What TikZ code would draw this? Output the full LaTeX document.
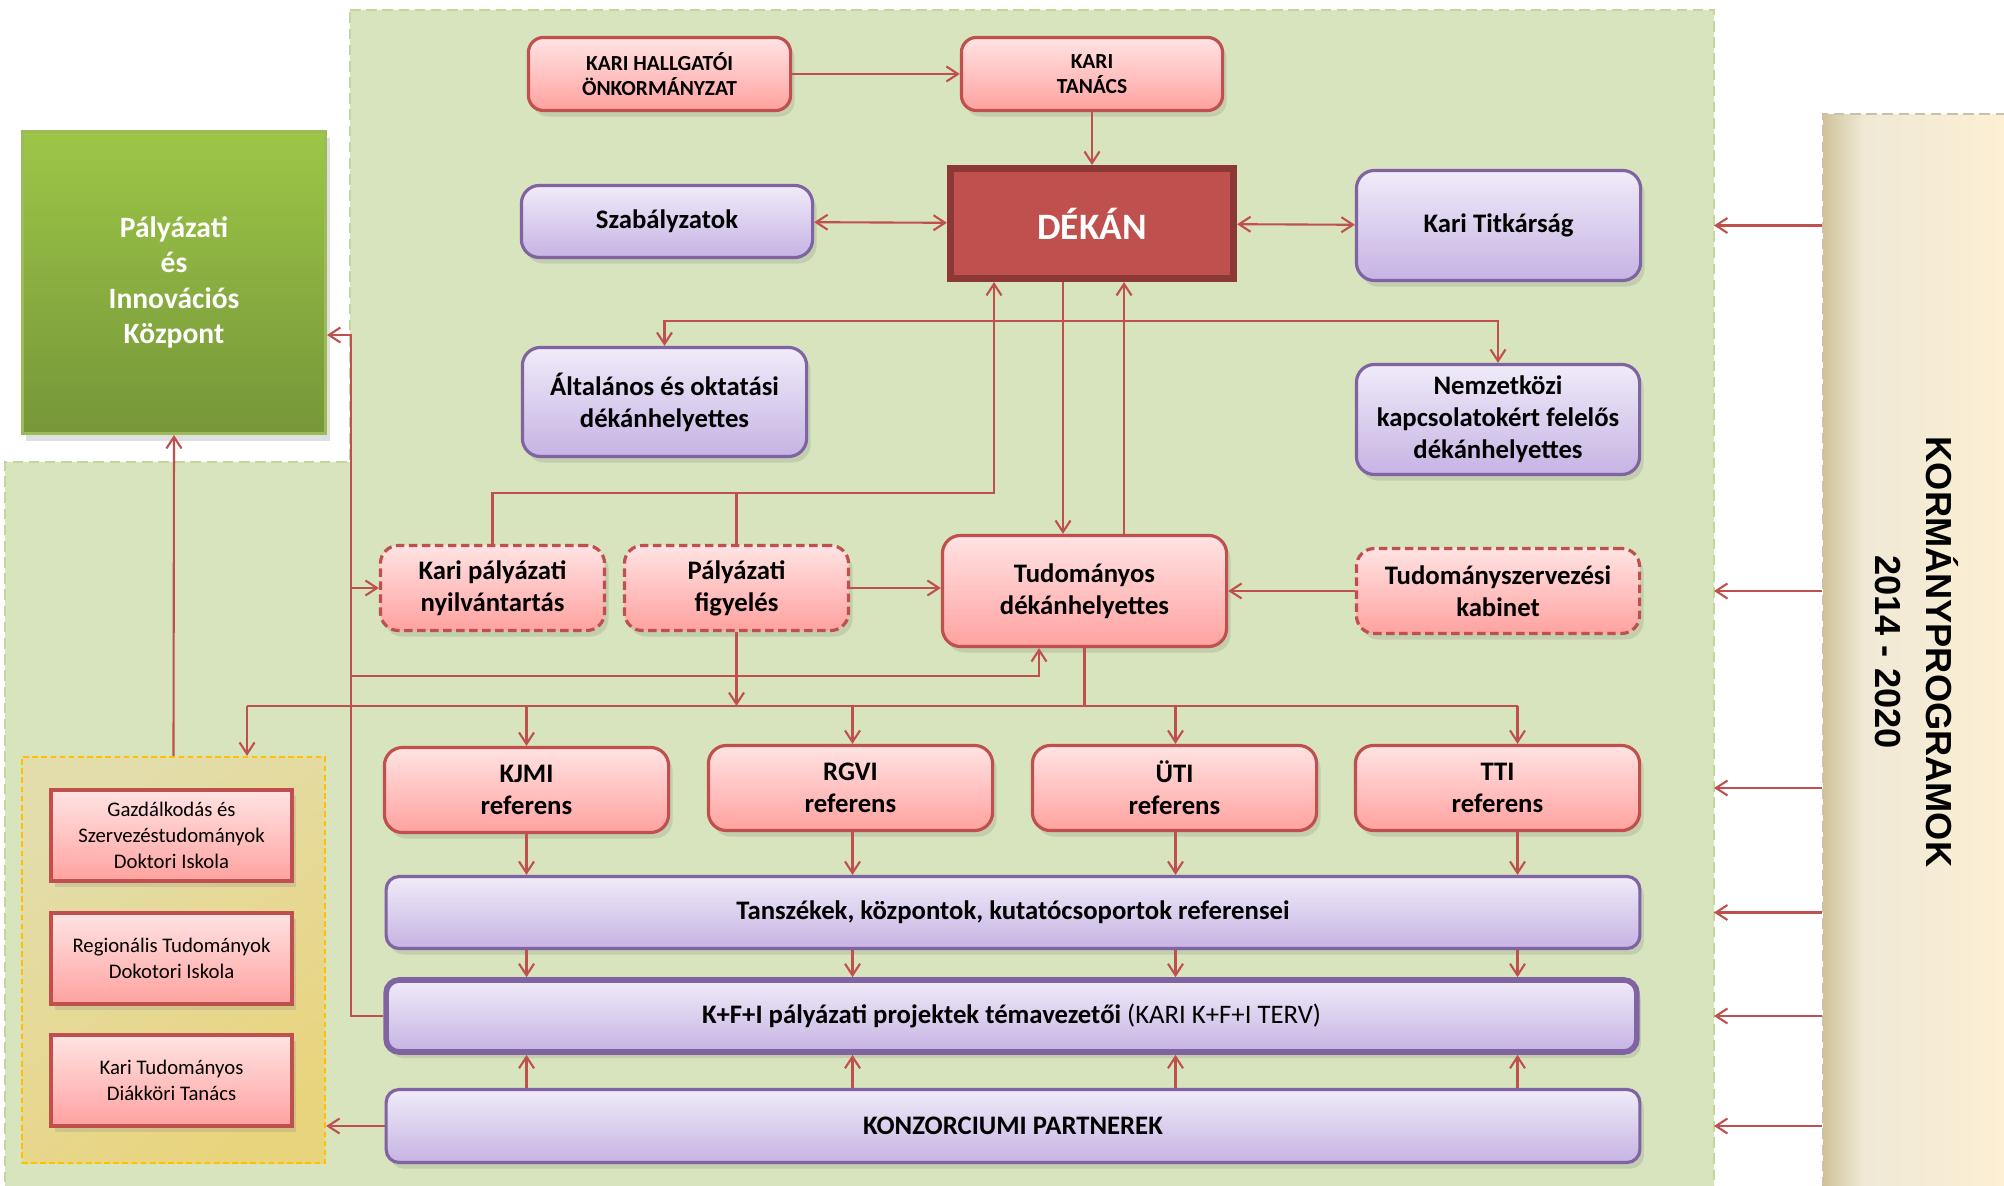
\documentclass[tikz,border=0pt]{standalone}
\usepackage{fontspec}
\setmainfont{Carlito}
\newfontfamily\kormfont{Liberation Sans}
\usetikzlibrary{arrows.meta,shadows,positioning}
\usepackage{xcolor}
\definecolor{lineRed}{HTML}{C0504D}
\definecolor{darkRed}{HTML}{8C3836}
\definecolor{pinkTop}{HTML}{FFE3E3}
\definecolor{pinkBot}{HTML}{FFA2A0}
\definecolor{lilaTop}{HTML}{F0EBF9}
\definecolor{lilaBot}{HTML}{C6B3E3}
\definecolor{lilaLine}{HTML}{8064A2}
\definecolor{regionFill}{HTML}{D7E4BD}
\definecolor{regionLine}{HTML}{C3D69B}
\definecolor{greenTop}{HTML}{9DC647}
\definecolor{greenBot}{HTML}{769639}
\definecolor{greenLine}{HTML}{9BBB59}
\definecolor{yellowTop}{HTML}{E3DDAC}
\definecolor{yellowBot}{HTML}{E9D47E}
\definecolor{yellowLine}{HTML}{FFC000}
\definecolor{barDark}{HTML}{D0C29A}
\definecolor{barMid}{HTML}{EFE9D6}
\definecolor{barLight}{HTML}{FDEFD3}
\definecolor{barEdge}{HTML}{C9C1A8}
\pgfdeclarehorizontalshading{barshade}{100bp}{color(0bp)=(barDark); color(25bp)=(barDark);
	color(36bp)=(barMid); color(75bp)=(barLight); color(100bp)=(barLight)}

\begin{document}
\begin{tikzpicture}[x=0.01cm,y=-0.01cm,>={Straight Barb[length=1.15mm,width=1.5mm]}]
\useasboundingbox (0,0) rectangle (2004,1186);
\tikzstyle{pinkbox} = [
	shape=rectangle,
	rounded corners=1.8mm,
	draw=lineRed,
	line width=0.9pt,
	top color=pinkTop, bottom color=pinkBot, %gradient fill
	drop shadow={shadow xshift=0.4mm,shadow yshift=-0.6mm,opacity=0.22},
	align=center,
	inner sep=0pt,
	font=\fontsize{7.6pt}{9.1pt}\selectfont\bfseries
];
\tikzstyle{lilabox} = [
	pinkbox,
	draw=lilaLine,
	top color=lilaTop, bottom color=lilaBot
];
\tikzstyle{dashbox} = [
	pinkbox,
	dash pattern=on 2.4pt off 1.3pt %dashed border
];
\tikzstyle{docbox} = [
	shape=rectangle,
	draw=lineRed,
	line width=0.9pt,
	top color=pinkTop, bottom color=pinkBot,
	drop shadow={shadow xshift=0.4mm,shadow yshift=-0.6mm,opacity=0.22},
	align=center,
	minimum width=2.41cm,
	minimum height=0.91cm,
	font=\fontsize{5.9pt}{7.3pt}\selectfont
];
\tikzstyle{conn} = [->, draw=lineRed, line width=0.6pt];
\tikzstyle{wire} = [draw=lineRed, line width=0.6pt];

% background areas
\draw[fill=regionFill, draw=regionLine, line width=0.7pt, dash pattern=on 3pt off 1.6pt]
	(350,10) -- (1714,10) -- (1714,1195) -- (5,1195) -- (5,462) -- (350,462) -- cycle;
\node[shape=rectangle, shade, shading=barshade, draw=barEdge, line width=0.7pt,
	dash pattern=on 3pt off 1.6pt, minimum width=1.85cm, minimum height=10.9cm, inner sep=0pt, anchor=north west] (kormany) at (1822,113) {};
\node[rotate=-90, align=center, font=\kormfont\fontsize{10.3pt}{14.5pt}\selectfont\bfseries] (kormtext) at (1917,652) {KORMÁNYPROGRAMOK\\2014 - 2020};

\begin{scope}
	\node[shape=rectangle, draw=greenLine, line width=0.8pt, top color=greenTop, bottom color=greenBot,
		drop shadow={shadow xshift=0.4mm,shadow yshift=-0.7mm,opacity=0.25},
		minimum width=3.03cm, minimum height=3.02cm, align=center, text=white,
		font=\fontsize{8.4pt}{10pt}\selectfont\bfseries] (kozpont) at (174,282.5) {Pályázati\\és\\Innovációs\\Központ};
	\node[shape=rectangle, draw=yellowLine, line width=0.6pt, dash pattern=on 1.6pt off 1pt,
		top color=yellowTop, bottom color=yellowBot, shading angle=35,
		minimum width=3.03cm, minimum height=4.06cm] (doktor) at (173.5,960) {};
	\node[docbox] (gazd) at (171.5,835.5) {Gazdálkodás és\\Szervezéstudományok\\Doktori Iskola};
	\node[docbox] (regio) at (171.5,958.5) {Regionális Tudományok\\Dokotori Iskola};
	\node[docbox] (tdk) at (171.5,1080.5) {Kari Tudományos\\Diákköri Tanács};

	\node[pinkbox, rounded corners=1.5mm, minimum width=2.62cm, minimum height=0.73cm,
		font=\fontsize{6.1pt}{7.3pt}\selectfont\bfseries] (onkorm) at (659.5,74) {KARI HALLGATÓI\\ÖNKORMÁNYZAT};
	\node[pinkbox, rounded corners=1.5mm, minimum width=2.61cm, minimum height=0.73cm,
		font=\fontsize{6.1pt}{7.3pt}\selectfont\bfseries] (tanacs) at (1092,74) {KARI\\TANÁCS};
	\node[shape=rectangle, fill=lineRed, draw=darkRed, line width=2pt, minimum width=2.83cm, minimum height=1.1cm,
		text=white, font=\fontsize{10.6pt}{12pt}\selectfont\bfseries] (dekan) at (1092,223.5) {DÉKÁN};
	\node[lilabox, minimum width=2.91cm, minimum height=0.72cm] (szab) at (667,221.5) {Szabályzatok};
	\node[lilabox, minimum width=2.84cm, minimum height=1.1cm] (titk) at (1498.5,225.5) {Kari Titkárság};
	\node[lilabox, minimum width=2.84cm, minimum height=1.09cm] (altal) at (664.5,402) {Általános és oktatási\\dékánhelyettes};
	\node[lilabox, minimum width=2.83cm, minimum height=1.1cm] (nemz) at (1498,419.5) {Nemzetközi\\kapcsolatokért felelős\\dékánhelyettes};

	\node[dashbox, minimum width=2.24cm, minimum height=0.85cm] (karipaly) at (492.5,588) {Kari pályázati\\nyilvántartás};
	\node[dashbox, minimum width=2.24cm, minimum height=0.85cm] (palyfigy) at (736.5,588) {Pályázati\\figyelés};
	\node[pinkbox, minimum width=2.84cm, minimum height=1.11cm] (tudom) at (1084.5,591) {Tudományos\\dékánhelyettes};
	\node[dashbox, minimum width=2.83cm, minimum height=0.85cm] (kabinet) at (1498,591) {Tudományszervezési\\kabinet};

	\node[pinkbox, minimum width=2.84cm, minimum height=0.85cm] (kjmi) at (526.5,790) {KJMI\\referens};
	\node[pinkbox, minimum width=2.84cm, minimum height=0.85cm] (rgvi) at (850.5,788) {RGVI\\referens};
	\node[pinkbox, minimum width=2.84cm, minimum height=0.85cm] (uti) at (1174.5,788) {ÜTI\\referens};
	\node[pinkbox, minimum width=2.84cm, minimum height=0.85cm] (tti) at (1497.5,788) {TTI\\referens};

	\node[lilabox, rounded corners=1.3mm, minimum width=12.53cm, minimum height=0.72cm] (tansz) at (1013,912.5) {Tanszékek, központok, kutatócsoportok referensei};
	\node[lilabox, rounded corners=1.3mm, line width=1.6pt, minimum width=12.5cm, minimum height=0.72cm,
		font=\fontsize{7.6pt}{9.1pt}\selectfont] (kfi) at (1011.5,1016) {\textbf{K+F+I pályázati projektek témavezetői} (KARI K+F+I TERV)};
	\node[lilabox, rounded corners=1.3mm, minimum width=12.53cm, minimum height=0.73cm] (konz) at (1013,1126) {KONZORCIUMI PARTNEREK};
\end{scope}

% connectors
\draw[conn] (onkorm) -- (tanacs);
\draw[conn] (tanacs) -- (dekan);
\draw[conn, <->] (szab) -- (dekan);
\draw[conn, <->] (dekan) -- (titk);
\draw[conn] ([xshift=-0.29cm]dekan.south) -- ([xshift=-0.29cm]dekan.south |- tudom.north);
\draw[conn] ([xshift=0.32cm]dekan.south |- tudom.north) -- ([xshift=0.32cm]dekan.south);

\coordinate (brn) at (1063,321);
\draw[conn] (brn) -| (altal.north);
\draw[conn] (brn) -| (nemz.north);

\coordinate (upj) at (994,493);
\draw[conn] (karipaly.north) |- (upj) -- (upj |- dekan.south);
\draw[wire] (palyfigy.north) -- (palyfigy.north |- upj);
\draw[conn] (palyfigy.east) -- (palyfigy.east -| tudom.west);
\draw[conn] (kabinet) -- (tudom);

\coordinate (bus) at (351,335);
\draw[conn] (kfi.west) -| (bus) -- (bus -| kozpont.east);
\draw[conn] (bus |- karipaly.west) -- (karipaly.west);
\coordinate (busT) at (351,676);
\draw[conn] (busT) -| ([xshift=-0.455cm]tudom.south);

\coordinate (dist) at (1085,706);
\draw[wire] (tudom.south) -- (tudom.south |- dist);
\draw[conn] (palyfigy.south) -- (palyfigy.south |- dist);
\draw[wire] ([xshift=0.735cm]doktor.north |- dist) -- ([xshift=0.2cm]tti.north |- dist);
\draw[conn] ([xshift=0.735cm]doktor.north |- dist) -- ([xshift=0.735cm]doktor.north);
\foreach \n/\s in {kjmi/0,rgvi/2,uti/1,tti/20} {
	\draw[conn] ([xshift=\s*0.01cm]\n.north |- dist) -- ([xshift=\s*0.01cm]\n.north);
	\draw[conn] ([xshift=\s*0.01cm]\n.south) -- ([xshift=\s*0.01cm]\n.south |- tansz.north);
	\draw[conn] ([xshift=\s*0.01cm]\n.south |- tansz.south) -- ([xshift=\s*0.01cm]\n.south |- kfi.north);
	\draw[conn] ([xshift=\s*0.01cm]\n.south |- konz.north) -- ([xshift=\s*0.01cm]\n.south |- kfi.south);
}
\draw[conn] (konz.west) -- (konz.west -| doktor.east);
\draw[conn] (doktor.north) -- (kozpont.south);

\coordinate (rimR) at (1714,0);
\foreach \n in {titk,kabinet,tti,tansz,kfi,konz}
	\draw[conn] (kormany.west |- \n.east) -- (rimR |- \n.east);
\end{tikzpicture}
\end{document}
